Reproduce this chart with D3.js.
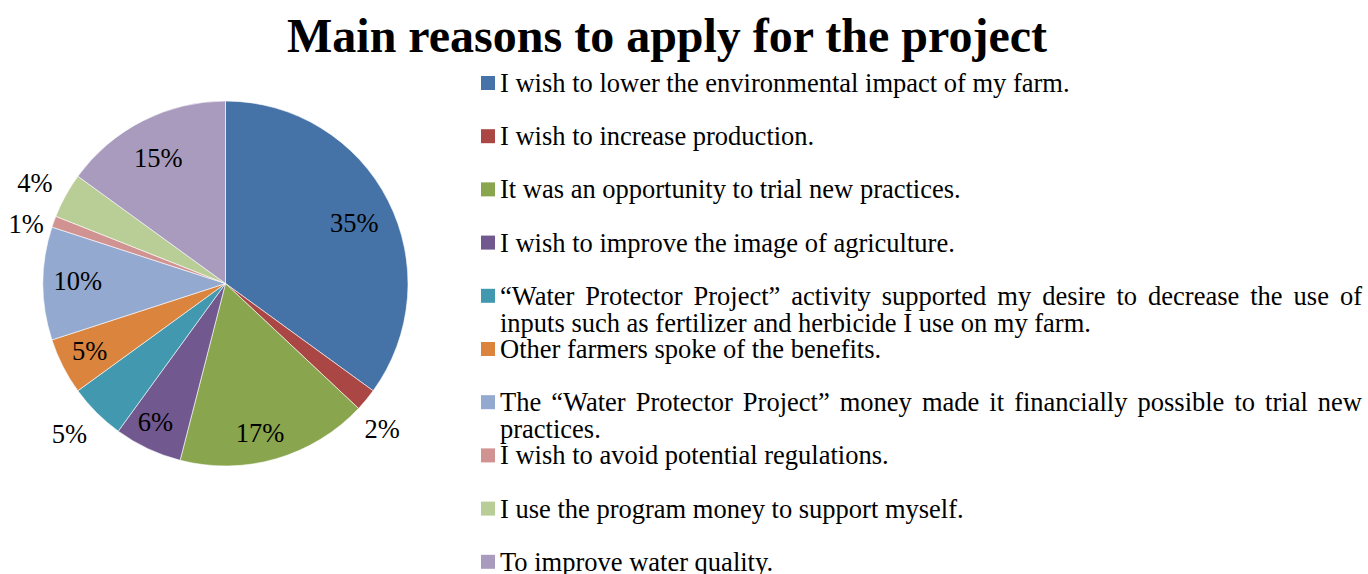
<!DOCTYPE html>
<html lang="en">
<head>
<meta charset="UTF-8">
<script src="https://cdn.jsdelivr.net/npm/d3@7"></script>
<title>Main reasons to apply for the project</title>
<style>
  body { margin: 0; background: #fff; }
  text { font-family: "Liberation Serif", "Times New Roman", serif; fill: #000; }
</style>
</head>
<body>
<div id="viz"></div>
<script>
// data
const reasons = [
  "I wish to lower the environmental impact of my farm.",
  "I wish to increase production.",
  "It was an opportunity to trial new practices.",
  "I wish to improve the image of agriculture.",
  "\u201cWater Protector Project\u201d activity supported my desire to decrease the use of|inputs such as fertilizer and herbicide I use on my farm.",
  "Other farmers spoke of the benefits.",
  "The \u201cWater Protector Project\u201d money made it financially possible to trial new|practices.",
  "I wish to avoid potential regulations.",
  "I use the program money to support myself.",
  "To improve water quality."
]
const shares = [35, 2, 17, 6, 5, 5, 10, 1, 4, 15]
const colors = ["#4572A7", "#AA4643", "#89A54E", "#71588F", "#4198AF",
                "#DB843D", "#93A9CF", "#D19392", "#B9CD96", "#A99BBD"]

// label placement (best-fit style): radius factor and angle shift in degrees
const labelRadius = [0.78, 1.17, 0.84, 0.85, 1.19, 0.83, 0.81, 1.14, 1.18, 0.78]
const labelShift  = [1.8, 3.2, 3.2, 1.7, 1, 0.7, 0.8, -3.1, -1.1, -1.2]

const W = 1368, H = 574
const cx = 225.5, cy = 283.5, R = 182.5

const svg = d3.select("#viz").append("svg")
  .attr("width", W).attr("height", H)

svg.append("text")
  .attr("x", 667).attr("y", 52)
  .attr("text-anchor", "middle")
  .style("font-size", "48px").style("font-weight", "bold")
  .text("Main reasons to apply for the project")

const pie = d3.pie().sort(null).value(d => d)
const arcs = pie(shares)
const arc = d3.arc().innerRadius(0).outerRadius(R)

const g = svg.append("g").attr("transform", `translate(${cx},${cy})`)

g.selectAll("path")
  .data(arcs)
  .enter().append("path")
  .attr("d", arc)
  .attr("fill", (d, i) => colors[i])
  .attr("stroke", "#fff")
  .attr("stroke-width", 0.6)

function labelPos(d, i) {
  const a = (d.startAngle + d.endAngle) / 2 + labelShift[i] * Math.PI / 180
  return [Math.sin(a) * R * labelRadius[i], -Math.cos(a) * R * labelRadius[i]]
}

g.selectAll(".lbl")
  .data(arcs)
  .enter().append("text")
  .attr("class", "lbl")
  .attr("x", (d, i) => labelPos(d, i)[0])
  .attr("y", (d, i) => labelPos(d, i)[1])
  .attr("text-anchor", "middle")
  .attr("dominant-baseline", "central")
  .style("font-size", "26.5px")
  .text(d => d.data + "%")

// legend
const lgX = 481, lgY0 = 83, rowH = 53.2, rightEdge = 1362
const legend = svg.append("g")

reasons.forEach((r, i) => {
  const y = lgY0 + i * rowH
  legend.append("rect")
    .attr("x", lgX).attr("y", y - 7)
    .attr("width", 14).attr("height", 14)
    .attr("fill", colors[i])
  const lines = r.split("|")
  lines.forEach((ln, j) => {
    const t = legend.append("text")
      .attr("x", 500).attr("y", y + j * 27)
      .attr("dominant-baseline", "central")
      .style("font-size", "26.5px")
      .text(ln)
    if (lines.length > 1 && j === 0) {
      // justify first line to the right edge
      const natural = t.node().getComputedTextLength()
      const spaces = ln.split(" ").length - 1
      t.style("word-spacing", ((rightEdge - 500 - natural) / spaces) + "px")
    }
  })
})
</script>
</body>
</html>
